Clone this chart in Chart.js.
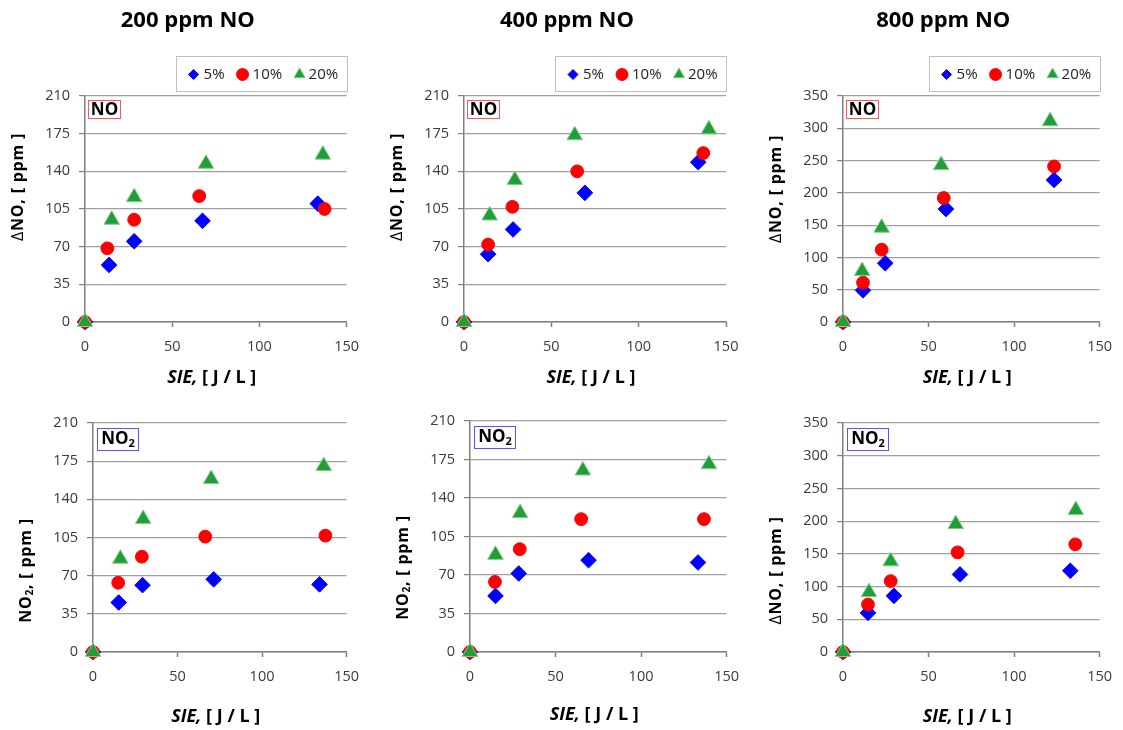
<!DOCTYPE html>
<html><head><meta charset="utf-8">
<script src="https://cdn.jsdelivr.net/npm/chart.js@4.4.1/dist/chart.umd.min.js"></script>
<style>
html,body{margin:0;padding:0;background:#fff;}
#page{position:relative;width:1123px;height:730px;overflow:hidden;background:#fff;}
canvas{position:absolute;}
</style></head><body><div id="page">
<canvas id="c1" width="370" height="395" style="left:0px;top:0px"></canvas>
<canvas id="c2" width="380" height="395" style="left:370px;top:0px"></canvas>
<canvas id="c3" width="373" height="395" style="left:750px;top:0px"></canvas>
<canvas id="c4" width="370" height="335" style="left:0px;top:395px"></canvas>
<canvas id="c5" width="380" height="335" style="left:370px;top:395px"></canvas>
<canvas id="c6" width="373" height="335" style="left:750px;top:395px"></canvas>
</div>
<script>
// ---------- categories / tick labels ----------
const seriesNames = ['5%', '10%', '20%'];
const panelTitles = ['200 ppm NO', '400 ppm NO', '800 ppm NO'];
const xTickValues = [0, 50, 100, 150];
const yTicksLow = [0, 35, 70, 105, 140, 175, 210];
const yTicksHigh = [0, 50, 100, 150, 200, 250, 300, 350];

// ---------- 200 ppm NO : ΔNO ----------
const no200_sie_5  = [0, 13.8, 28.2, 67.4, 133.5];
const no200_val_5  = [0, 53, 75, 94, 110];
const no200_sie_10 = [0, 12.8, 28.2, 65.5, 137.4];
const no200_val_10 = [0, 68.5, 95, 117, 105];
const no200_sie_20 = [0, 15.3, 28.2, 69.4, 136.4];
const no200_val_20 = [0, 95, 116, 147, 155.5];

// ---------- 400 ppm NO : ΔNO ----------
const no400_sie_5  = [0, 13.8, 28.1, 69.2, 134.1];
const no400_val_5  = [0, 63, 86, 120, 148.5];
const no400_sie_10 = [0, 13.8, 27.7, 64.8, 137];
const no400_val_10 = [0, 72, 107, 140, 157];
const no400_sie_20 = [0, 14.7, 29.1, 63.4, 140.2];
const no400_val_20 = [0, 99, 132, 173.5, 179];

// ---------- 800 ppm NO : ΔNO ----------
const no800_sie_5  = [0, 11.7, 24.7, 60.2, 123.4];
const no800_val_5  = [0, 49, 91, 175, 220];
const no800_sie_10 = [0, 11.7, 22.6, 58.9, 123.4];
const no800_val_10 = [0, 61, 112, 192, 241];
const no800_sie_20 = [0, 11.2, 22.6, 57.4, 121.1];
const no800_val_20 = [0, 79, 146, 243, 311];

// ---------- 200 ppm NO : NO2 ----------
const no2_200_sie_5  = [0, 15.2, 29.3, 71.4, 134];
const no2_200_val_5  = [0, 45.4, 61.3, 66.6, 62];
const no2_200_sie_10 = [0, 14.9, 28.9, 66.4, 137.5];
const no2_200_val_10 = [0, 63.5, 87.4, 105.8, 106.7];
const no2_200_sie_20 = [0, 16.2, 29.7, 69.9, 136.5];
const no2_200_val_20 = [0, 85.5, 122, 158.6, 170.5];

// ---------- 400 ppm NO : NO2 ----------
const no2_400_sie_5  = [0, 14.9, 28.5, 69.3, 133.3];
const no2_400_val_5  = [0, 51, 71.4, 83.5, 81.4];
const no2_400_sie_10 = [0, 14.6, 29.1, 65, 136.8];
const no2_400_val_10 = [0, 63.7, 93.5, 120.8, 120.8];
const no2_400_sie_20 = [0, 14.9, 29.3, 66, 139.7];
const no2_400_val_20 = [0, 88.3, 126.3, 165, 170.7];

// ---------- 800 ppm NO : NO2 ----------
const no2_800_sie_5  = [0, 14.6, 29.8, 68.4, 132.9];
const no2_800_val_5  = [0, 59.8, 85.8, 118.6, 124.2];
const no2_800_sie_10 = [0, 14.6, 27.9, 67, 135.8];
const no2_800_val_10 = [0, 72.6, 108.4, 152.3, 164.6];
const no2_800_sie_20 = [0, 15.2, 27.9, 65.9, 136.1];
const no2_800_val_20 = [0, 91.5, 138.6, 195.4, 216.9];

// ---------- styles ----------
const FONT = '"Open Sans", "Noto Sans", sans-serif';
const seriesStyles = [
  {pointStyle: 'rectRot', radius: 7.8, color: '#0000ff', border: '#0000ff', lr: 5},
  {pointStyle: 'circle', radius: 6.4, color: '#ff0000', border: '#ff0000', lr: 6},
  {pointStyle: 'triangle', radius: 9, color: '#1f9e3a', border: '#86cc86', lr: 6.5}
];

const panels = [
  {id: 'c1', sie: [no200_sie_5, no200_sie_10, no200_sie_20], val: [no200_val_5, no200_val_10, no200_val_20],
   yTicks: yTicksLow, title: panelTitles[0], legend: true, tag: 'NO', yTitle: 'dNO',
   geo: {yW: 85, padR: 23, padT: 96, xH: 73}, yTitleDy: -22, xTitleDy: 56},
  {id: 'c2', sie: [no400_sie_5, no400_sie_10, no400_sie_20], val: [no400_val_5, no400_val_10, no400_val_20],
   yTicks: yTicksLow, title: panelTitles[1], legend: true, tag: 'NO', yTitle: 'dNO',
   geo: {yW: 94, padR: 24, padT: 96, xH: 73}, yTitleDy: -22, xTitleDy: 56},
  {id: 'c3', sie: [no800_sie_5, no800_sie_10, no800_sie_20], val: [no800_val_5, no800_val_10, no800_val_20],
   yTicks: yTicksHigh, title: panelTitles[2], legend: true, tag: 'NO', yTitle: 'dNO',
   geo: {yW: 93, padR: 17, padT: 96, xH: 73}, yTitleDy: -20, xTitleDy: 56},
  {id: 'c4', sie: [no2_200_sie_5, no2_200_sie_10, no2_200_sie_20], val: [no2_200_val_5, no2_200_val_10, no2_200_val_20],
   yTicks: yTicksLow, title: null, legend: false, tag: 'NO2', yTitle: 'NO2',
   geo: {yW: 93, padR: 18, padT: 28, xH: 78}, yTitleDy: 33, xTitleDy: 65},
  {id: 'c5', sie: [no2_400_sie_5, no2_400_sie_10, no2_400_sie_20], val: [no2_400_val_5, no2_400_val_10, no2_400_val_20],
   yTicks: yTicksLow, title: null, legend: false, tag: 'NO2', yTitle: 'NO2',
   geo: {yW: 100, padR: 22, padT: 26, xH: 78}, yTitleDy: 31, xTitleDy: 63},
  {id: 'c6', sie: [no2_800_sie_5, no2_800_sie_10, no2_800_sie_20], val: [no2_800_val_5, no2_800_val_10, no2_800_val_20],
   yTicks: yTicksHigh, title: null, legend: false, tag: 'NO2', yTitle: 'dNO',
   geo: {yW: 93, padR: 16, padT: 28, xH: 78}, yTitleDy: 33, xTitleDy: 65}
];

function drawSegments(ctx, segs, cx, cy, spacing) {
  ctx.letterSpacing = spacing || '0px';
  let total = 0;
  segs.forEach(s => { ctx.font = s.font; s.w = ctx.measureText(s.t).width; total += s.w; });
  let x = cx - total / 2;
  ctx.textAlign = 'left';
  ctx.textBaseline = 'middle';
  segs.forEach(s => { ctx.font = s.font; ctx.fillText(s.t, x, cy + (s.dy || 0)); x += s.w; });
  ctx.letterSpacing = '0px';
}

const decor = {
  id: 'decor',
  afterDraw(chart, args, o) {
    const ctx = chart.ctx, a = chart.chartArea;
    const cxp = (a.left + a.right) / 2, cyp = (a.top + a.bottom) / 2;
    ctx.save();
    ctx.fillStyle = '#000';
    // panel title
    if (o.title) {
      ctx.font = 'bold 22px ' + FONT;
      ctx.textAlign = 'center'; ctx.textBaseline = 'middle';
      ctx.fillText(o.title, cxp - 28, 21);
    }
    // legend
    if (o.legend) {
      const bx = a.right - 171, by = 56, bw = 171, bh = 35;
      ctx.strokeStyle = '#bfbfbf'; ctx.lineWidth = 1;
      ctx.strokeRect(Math.round(bx) + 0.5, by + 0.5, bw, bh);
      const mk = [18, 67, 124], tx = [28, 77, 133];
      const ly = by + bh / 2 + 1;
      seriesNames.forEach((n, i) => {
        const st = seriesStyles[i];
        ctx.fillStyle = st.color; ctx.strokeStyle = st.border; ctx.lineWidth = 1;
        Chart.helpers.drawPoint(ctx, {pointStyle: st.pointStyle, radius: st.lr, rotation: 0, borderWidth: 1}, bx + mk[i], ly);
        ctx.fillStyle = '#222';
        ctx.font = '15px ' + FONT; ctx.textAlign = 'left'; ctx.textBaseline = 'middle';
        ctx.fillText(n, bx + tx[i], ly);
      });
    }
    // tag box
    ctx.fillStyle = '#000';
    if (o.tag === 'NO') {
      const x = a.left + 3, y = a.top + 4;
      ctx.fillStyle = '#fff'; ctx.fillRect(x, y, 32, 18);
      ctx.strokeStyle = '#ff5555'; ctx.lineWidth = 1;
      ctx.strokeRect(Math.round(x) + 0.5, Math.round(y) + 0.5, 32, 18);
      ctx.fillStyle = '#000';
      drawSegments(ctx, [{t: 'NO', font: 'bold 17px ' + FONT}], x + 16.5, y + 10);
    } else {
      const x = a.left + 4, y = a.top + 5;
      ctx.fillStyle = '#fff'; ctx.fillRect(x, y, 41, 22);
      ctx.strokeStyle = '#5555ff'; ctx.lineWidth = 1;
      ctx.strokeRect(Math.round(x) + 0.5, Math.round(y) + 0.5, 41, 22);
      ctx.fillStyle = '#000';
      drawSegments(ctx, [{t: 'NO', font: 'bold 17px ' + FONT}, {t: '2', font: 'bold 11px ' + FONT, dy: 5}], x + 21, y + 11);
    }
    // y axis title (rotated)
    ctx.save();
    ctx.translate(a.left - 67, cyp + o.yTitleDy);
    ctx.rotate(-Math.PI / 2);
    ctx.fillStyle = '#000';
    const B = 'bold 16px ' + FONT;
    if (o.yTitle === 'NO2') {
      drawSegments(ctx, [{t: 'NO', font: B}, {t: '2', font: 'bold 10px ' + FONT, dy: 4}, {t: ', [ ppm ]', font: B}], 0, 0, '0.8px');
    } else {
      drawSegments(ctx, [{t: 'Δ', font: '16px ' + FONT}, {t: 'NO, [ ppm ]', font: B}], 0, 0, '0.8px');
    }
    ctx.restore();
    // x axis title
    ctx.fillStyle = '#000';
    drawSegments(ctx, [{t: 'SIE,', font: 'italic bold 18px ' + FONT}, {t: ' [ J / L ]', font: 'bold 18px ' + FONT}], cxp - 4, a.bottom + o.xTitleDy);
    ctx.restore();
  }
};

panels.forEach(p => {
  const datasets = seriesNames.map((name, i) => ({
    label: name,
    data: p.sie[i].map((x, k) => ({x: x, y: p.val[i][k]})),
    pointStyle: seriesStyles[i].pointStyle,
    pointRadius: seriesStyles[i].radius,
    pointHoverRadius: seriesStyles[i].radius,
    backgroundColor: seriesStyles[i].color,
    borderColor: seriesStyles[i].border,
    pointBorderWidth: 1,
    showLine: false,
    clip: false,
    order: 3 - i
  }));
  const yMax = p.yTicks[p.yTicks.length - 1];
  new Chart(document.getElementById(p.id), {
    type: 'scatter',
    data: {datasets},
    plugins: [decor],
    options: {
      responsive: false,
      maintainAspectRatio: false,
      devicePixelRatio: 1,
      animation: false,
      events: [],
      layout: {padding: {left: 0, top: p.geo.padT, right: p.geo.padR, bottom: 0}},
      plugins: {
        legend: {display: false},
        tooltip: {enabled: false},
        title: {display: false},
        decor: {title: p.title, legend: p.legend, tag: p.tag, yTitle: p.yTitle, yTitleDy: p.yTitleDy, xTitleDy: p.xTitleDy}
      },
      scales: {
        x: {
          type: 'linear', min: xTickValues[0], max: xTickValues[xTickValues.length - 1],
          afterBuildTicks: s => { s.ticks = xTickValues.map(v => ({value: v})); },
          afterFit: s => { s.height = p.geo.xH; },
          ticks: {font: {family: FONT, size: 14.5}, color: '#3a3a3a', padding: 11, maxRotation: 0},
          grid: {drawOnChartArea: false, drawTicks: true, tickLength: 5, tickColor: '#7f7f7f', tickWidth: 1.5},
          border: {display: true, color: '#7f7f7f', width: 1.5}
        },
        y: {
          type: 'linear', min: 0, max: yMax,
          afterBuildTicks: s => { s.ticks = p.yTicks.map(v => ({value: v})); },
          afterFit: s => { s.width = p.geo.yW; },
          ticks: {font: {family: FONT, size: 14.5}, color: '#3a3a3a', padding: 9},
          grid: {color: '#a0a0a0', lineWidth: 1.2, drawTicks: true, tickLength: 6, tickColor: '#7f7f7f', tickWidth: 1.2},
          border: {display: true, color: '#7f7f7f', width: 1.5}
        }
      }
    }
  });
});
</script></body></html>
